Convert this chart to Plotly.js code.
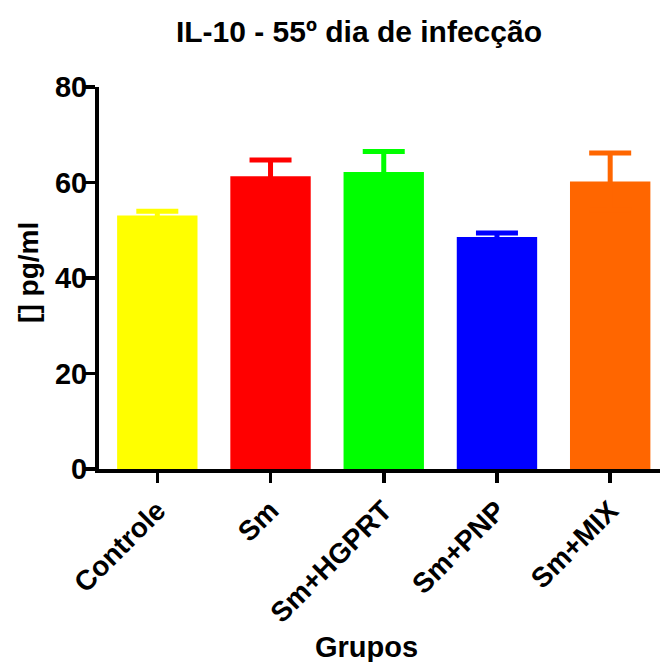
<!DOCTYPE html>
<html>
<head>
<meta charset="utf-8">
<script src="https://cdn.plot.ly/plotly-3.0.1.min.js"></script>
<style>html,body{margin:0;padding:0;background:#fff;}#chart{width:661px;height:662px;}</style>
</head>
<body>
<div id="chart"></div>
<script>
const categories = ["Controle", "Sm", "Sm+HGPRT", "Sm+PNP", "Sm+MIX"];
const means = [53.1, 61.3, 62.2, 48.6, 60.2];
const sem = [0.9, 3.4, 4.3, 0.8, 6.0];
const barColors = ["#FFFF00", "#FF0000", "#00FF00", "#0000FF", "#FF6600"];
const yTicks = [0, 20, 40, 60, 80];

const F = "Liberation Sans, Arial, Helvetica, sans-serif";

const traces = categories.map((c, i) => ({
  type: "bar",
  x: [c],
  y: [means[i]],
  width: 0.71,
  marker: { color: barColors[i], line: { width: 0 } },
  error_y: { type: "data", array: [sem[i]], visible: true, color: barColors[i], thickness: 5, width: 21 },
  showlegend: false,
  hoverinfo: "skip"
}));

const layout = {
  width: 661, height: 662,
  margin: { l: 99, r: 1, t: 87, b: 193 },
  paper_bgcolor: "#fff", plot_bgcolor: "#fff",
  title: { text: "IL-10 - 55º dia de infecção", font: { family: F, size: 30, color: "#000", weight: "bold" }, x: 0.543, xanchor: "center", y: 0.953, yanchor: "middle", xref: "container", yref: "container" },
  xaxis: {
    type: "category", categoryorder: "array", categoryarray: categories,
    range: [-0.515, 4.44],
    showline: true, linecolor: "#000", linewidth: 4,
    ticks: "outside", ticklen: 10, tickwidth: 3.5, tickcolor: "#000",
    tickangle: -45, tickfont: { family: F, size: 28, color: "#000", weight: "bold" },
    ticklabelstandoff: 0,
    showgrid: false, zeroline: false
  },
  yaxis: {
    range: [0, 80], tickvals: yTicks, ticktext: yTicks.map(String),
    showline: true, linecolor: "#000", linewidth: 4,
    ticks: "outside", ticklen: 11, tickwidth: 3.5, tickcolor: "#000",
    tickfont: { family: F, size: 29, color: "#000", weight: "bold" },
    ticklabelstandoff: -9,
    showgrid: false, zeroline: false
  },
  annotations: [
    { text: "Grupos", xref: "paper", yref: "paper", x: 0.4777, y: -0.466, xanchor: "center", yanchor: "middle", showarrow: false, font: { family: F, size: 29, color: "#000", weight: "bold" } },
    { text: "[] pg/ml", xref: "paper", yref: "paper", x: -0.1248, y: 0.516, xanchor: "center", yanchor: "middle", textangle: -90, showarrow: false, font: { family: F, size: 28, color: "#000", weight: "bold" } }
  ]
};

Plotly.newPlot("chart", traces, layout, { displayModeBar: false, staticPlot: true });
</script>
</body>
</html>
